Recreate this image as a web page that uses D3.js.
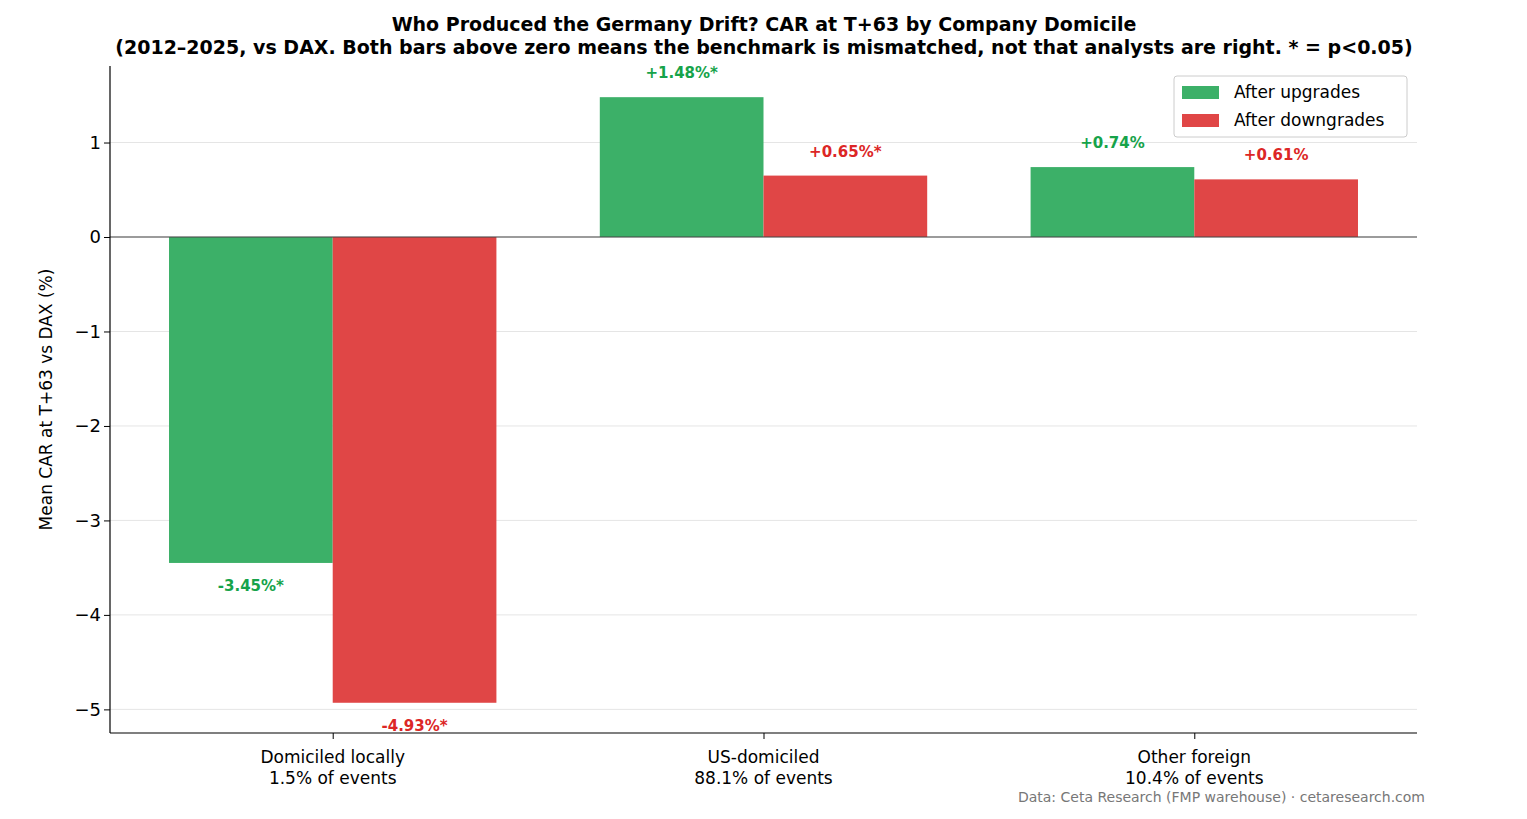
<!DOCTYPE html>
<html><head><meta charset="utf-8">
<script src="https://cdn.jsdelivr.net/npm/d3@7"></script>
<style>body{margin:0;background:#fff;font-family:"DejaVu Sans",sans-serif;}</style>
</head><body><div id="chart"></div>
<script>
const categories = ["Domiciled locally", "US-domiciled", "Other foreign"];
const shares = ["1.5% of events", "88.1% of events", "10.4% of events"];
const upgrades = [-3.45, 1.48, 0.74];
const downgrades = [-4.93, 0.65, 0.61];
const upLabels = ["-3.45%*", "+1.48%*", "+0.74%"];
const downLabels = ["-4.93%*", "+0.65%*", "+0.61%"];
const yTicks = [1, 0, -1, -2, -3, -4, -5];

const W = 1527, H = 819;
const m = {left: 110, right: 1417, top: 66, bottom: 733};
const svg = d3.select("#chart").append("svg").attr("width", W).attr("height", H);

const x = d3.scaleLinear().domain([-0.517, 2.517]).range([m.left, m.right]);
const y = d3.scaleLinear().domain([-5.25, 1.81]).range([m.bottom, m.top]);
const bw = 0.38;

// grid
svg.append("g").selectAll("line").data(yTicks).enter().append("line")
  .attr("x1", m.left).attr("x2", m.right)
  .attr("y1", d => y(d)).attr("y2", d => y(d))
  .attr("stroke", "#e5e5e5").attr("stroke-width", 1);

const series = [
  {vals: upgrades, labels: upLabels, fill: "#3cb068", text: "#16a34a", off: -bw},
  {vals: downgrades, labels: downLabels, fill: "#e04646", text: "#dc2626", off: 0}
];
series.forEach(s => {
  svg.append("g").selectAll("rect").data(s.vals).enter().append("rect")
    .attr("x", (d, i) => x(i + s.off))
    .attr("width", x(bw) - x(0))
    .attr("y", d => y(Math.max(0, d)))
    .attr("height", d => Math.abs(y(d) - y(0)))
    .attr("fill", s.fill);
  svg.append("g").selectAll("text").data(s.vals).enter().append("text")
    .attr("x", (d, i) => x(i + s.off + bw / 2))
    .attr("y", d => d >= 0 ? y(d) - 19 : y(d) + 28)
    .attr("text-anchor", "middle").attr("font-size", 15).attr("font-weight", "bold")
    .attr("fill", s.text).text((d, i) => s.labels[i]);
});

// zero line
svg.append("line").attr("x1", m.left).attr("x2", m.right)
  .attr("y1", y(0)).attr("y2", y(0)).attr("stroke", "#444").attr("stroke-width", 1.2);

// axes
const yAxis = svg.append("g").attr("transform", `translate(${m.left},0)`)
  .call(d3.axisLeft(y).tickValues(yTicks).tickSize(6).tickFormat(d => d < 0 ? "\u2212" + Math.abs(d) : d));
const xAxis = svg.append("g").attr("transform", `translate(0,${m.bottom})`)
  .call(d3.axisBottom(x).tickValues([0, 1, 2]).tickSize(6).tickFormat(""));
[yAxis, xAxis].forEach(a => {
  a.select(".domain").attr("stroke", "#000").attr("stroke-width", 1.2);
  a.selectAll(".tick line").attr("stroke", "#000");
  a.selectAll("text").attr("font-size", 18).attr("font-family", "DejaVu Sans").attr("fill", "#000");
});
yAxis.select(".domain").attr("d", `M-0,${m.top}V${m.bottom}`);
xAxis.select(".domain").attr("d", `M${m.left},0H${m.right}`);

categories.forEach((c, i) => {
  const t = svg.append("text").attr("x", x(i)).attr("y", 763).attr("text-anchor", "middle")
    .attr("font-size", 17);
  t.append("tspan").attr("x", x(i)).text(c);
  t.append("tspan").attr("x", x(i)).attr("dy", 21).text(shares[i]);
});

svg.append("text").attr("transform", `translate(52,${(m.top + m.bottom) / 2}) rotate(-90)`)
  .attr("text-anchor", "middle").attr("font-size", 17).text("Mean CAR at T+63 vs DAX (%)");

svg.append("text").attr("x", 764).attr("y", 31).attr("text-anchor", "middle")
  .attr("font-size", 19).attr("font-weight", "bold")
  .text("Who Produced the Germany Drift? CAR at T+63 by Company Domicile");
svg.append("text").attr("x", 764).attr("y", 54).attr("text-anchor", "middle")
  .attr("font-size", 19).attr("font-weight", "bold")
  .text("(2012\u20132025, vs DAX. Both bars above zero means the benchmark is mismatched, not that analysts are right. * = p<0.05)");

// legend
const lg = svg.append("g").attr("transform", "translate(1174,76)");
lg.append("rect").attr("width", 233).attr("height", 61).attr("rx", 3)
  .attr("fill", "#fff").attr("stroke", "#ccc");
[["After upgrades", "#3cb068"], ["After downgrades", "#e04646"]].forEach((d, i) => {
  lg.append("rect").attr("x", 8).attr("y", 10 + i * 28).attr("width", 37).attr("height", 13).attr("fill", d[1]);
  lg.append("text").attr("x", 60).attr("y", 22 + i * 28).attr("font-size", 17).text(d[0]);
});

svg.append("text").attr("x", 1425).attr("y", 802).attr("text-anchor", "end")
  .attr("font-size", 14).attr("fill", "#777")
  .text("Data: Ceta Research (FMP warehouse) \u00b7 cetaresearch.com");
</script></body></html>
